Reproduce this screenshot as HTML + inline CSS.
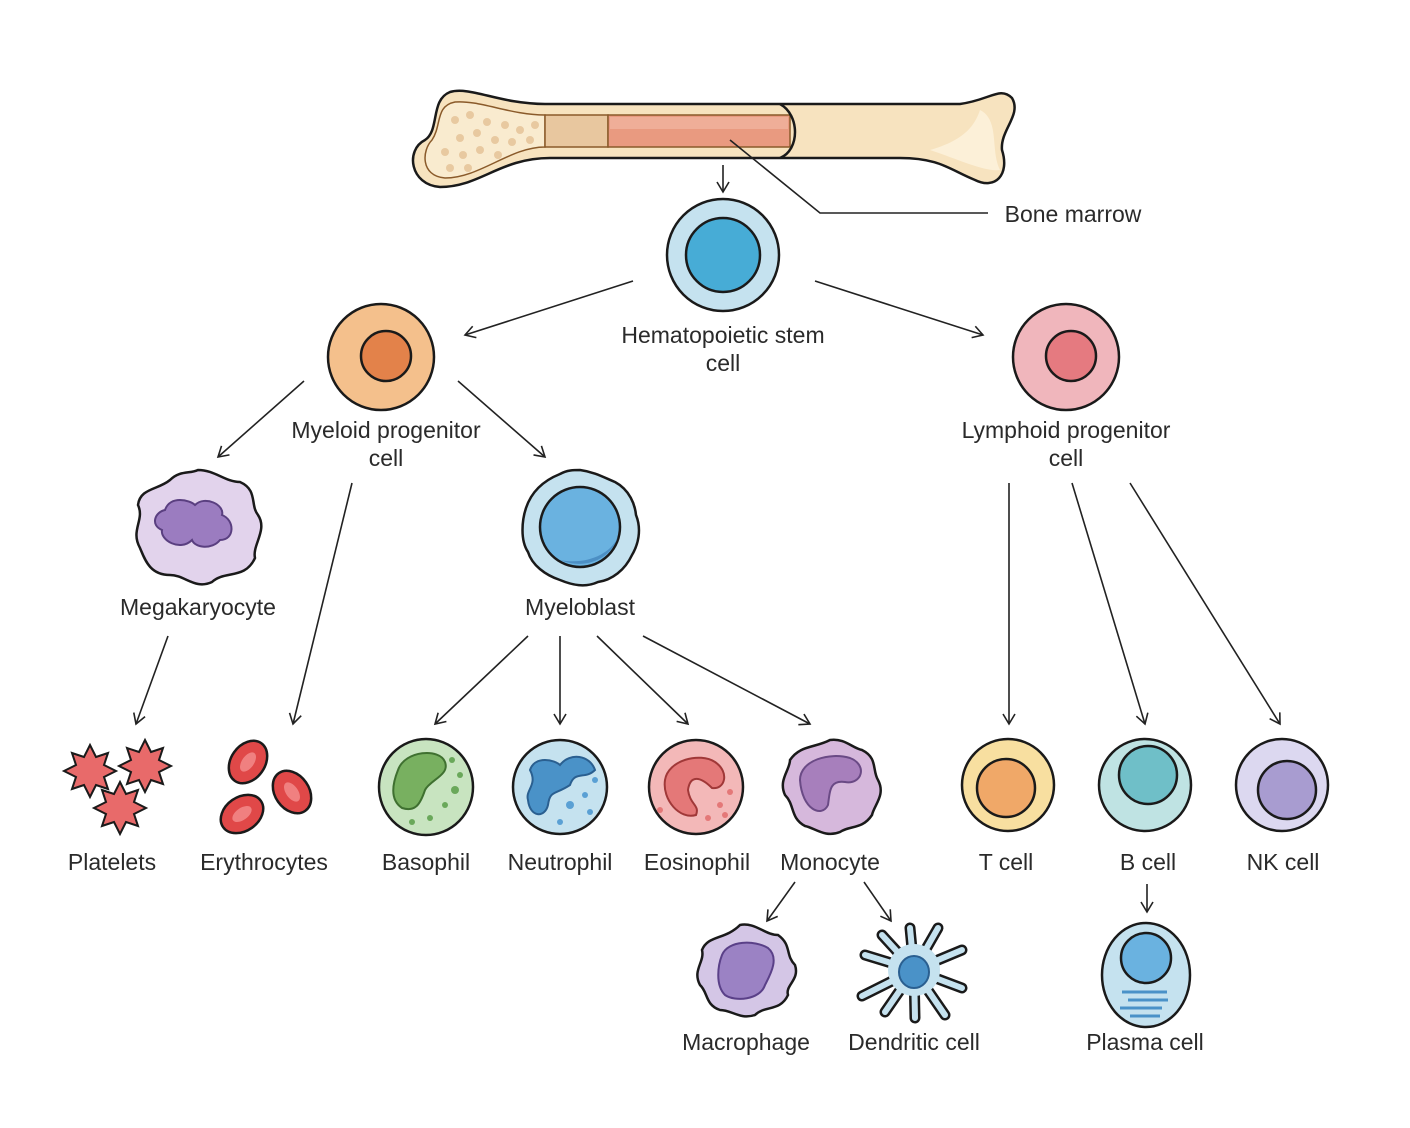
<!DOCTYPE html>
<html><head><meta charset="utf-8"><style>
html,body{margin:0;padding:0;background:#fff}
svg{display:block}
text{font-family:"Liberation Sans",sans-serif;font-size:23px;fill:#2a2a2a;text-anchor:middle}
.c{stroke:#1a1a1a;stroke-width:2.5}
.a{stroke:#222;stroke-width:1.6;fill:none}
</style></head><body>
<svg width="1410" height="1128" viewBox="0 0 1410 1128">
<defs><marker id="m" markerWidth="14" markerHeight="14" refX="12" refY="7" orient="auto" markerUnits="userSpaceOnUse"><path d="M2,1 L12,7 L2,13" fill="none" stroke="#222" stroke-width="1.6"/></marker></defs>
<!-- bone -->
<path class="c" fill="#f7e3bf" d="M450,92 C470,86 500,104 545,104 L960,104 C990,100 1000,86 1012,98 C1022,115 1000,130 1002,150 C1010,175 995,190 975,180 C950,170 940,158 900,158 L550,158 C500,158 480,187 440,187 C410,185 405,150 425,140 C440,130 430,100 450,92Z"/>
<path d="M980,110 C1000,120 990,150 1000,170 C985,172 960,160 930,150 C965,140 975,125 980,110Z" fill="#fcf0d8"/>
<path fill="#f9ebcf" stroke="#8a5a2a" stroke-width="1.5" d="M455,102 C480,100 510,115 545,115 L545,147 C510,147 480,178 445,178 C420,176 422,150 432,140 C442,125 435,106 455,102Z"/>
<g fill="#e8c9a0"><circle cx="455" cy="120" r="4"/><circle cx="470" cy="115" r="4"/><circle cx="487" cy="122" r="4"/><circle cx="505" cy="125" r="4"/><circle cx="520" cy="130" r="4"/><circle cx="535" cy="125" r="4"/><circle cx="460" cy="138" r="4"/><circle cx="477" cy="133" r="4"/><circle cx="495" cy="140" r="4"/><circle cx="512" cy="142" r="4"/><circle cx="445" cy="152" r="4"/><circle cx="463" cy="155" r="4"/><circle cx="480" cy="150" r="4"/><circle cx="498" cy="155" r="4"/><circle cx="450" cy="168" r="4"/><circle cx="468" cy="168" r="4"/><circle cx="530" cy="140" r="4"/></g>
<rect x="545" y="115" width="63" height="32" fill="#e8c79f" stroke="#8a5a2a" stroke-width="1.5"/>
<rect x="608" y="115" width="182" height="32" fill="#e99a80" stroke="#8a5a2a" stroke-width="1.5"/>
<rect x="610" y="117" width="178" height="12" fill="#efae98"/>
<path d="M780,104 C800,115 800,150 780,158" class="c" fill="none"/>
<!-- leader -->
<path class="a" d="M730,140 L820,213 L988,213"/>
<text x="1073" y="222" style="text-anchor:middle">Bone marrow</text>
<line class="a" x1="723" y1="165" x2="723" y2="192" marker-end="url(#m)"/>
<!-- HSC -->
<circle cx="723" cy="255" r="56" fill="#c5e2ef" class="c"/><circle cx="723" cy="255" r="37" fill="#47acd6" class="c"/>
<text x="723" y="343">Hematopoietic stem</text><text x="723" y="371">cell</text>
<line class="a" x1="633" y1="281" x2="465" y2="335" marker-end="url(#m)"/>
<line class="a" x1="815" y1="281" x2="983" y2="335" marker-end="url(#m)"/>
<!-- myeloid -->
<circle cx="381" cy="357" r="53" fill="#f4c08c" class="c"/><circle cx="386" cy="356" r="25" fill="#e3824a" class="c"/>
<text x="386" y="438">Myeloid progenitor</text><text x="386" y="466">cell</text>
<circle cx="1066" cy="357" r="53" fill="#f0b6bc" class="c"/><circle cx="1071" cy="356" r="25" fill="#e57a80" class="c"/>
<text x="1066" y="438">Lymphoid progenitor</text><text x="1066" y="466">cell</text>
<line class="a" x1="304" y1="381" x2="218" y2="457" marker-end="url(#m)"/>
<line class="a" x1="458" y1="381" x2="545" y2="457" marker-end="url(#m)"/>
<line class="a" x1="352" y1="483" x2="293" y2="724" marker-end="url(#m)"/>
<!-- megakaryocyte -->
<path class="c" fill="#e2d3ec" d="M198,470 C215,470 225,482 240,482 C258,490 250,505 258,515 C268,530 252,545 255,558 C245,580 225,570 212,582 C195,590 185,575 170,575 C150,575 145,560 140,548 C130,530 145,520 138,505 C140,488 158,490 170,480 C180,470 190,474 198,470Z"/>
<path d="M165,510 C170,495 190,500 195,505 C205,495 225,505 222,515 C235,520 235,540 220,540 C212,550 195,548 192,540 C180,552 160,540 162,530 C150,525 155,512 165,510Z" fill="#9b7cc0" stroke="#5a3f80" stroke-width="2"/>
<text x="198" y="615">Megakaryocyte</text>
<!-- myeloblast -->
<path class="c" fill="#c5e2ef" d="M580,470 C595,472 605,478 615,482 C630,490 635,505 636,515 C642,530 638,545 632,555 C625,570 612,580 598,582 C585,588 572,585 560,580 C545,575 532,565 528,552 C520,540 522,520 526,508 C532,490 545,480 560,474 C567,470 574,470 580,470Z"/>
<circle cx="580" cy="527" r="40" fill="#6ab2e0" class="c"/><path d="M618,537 C610,560 585,570 560,560 C585,565 610,555 618,537Z" fill="#4c8fc4"/>
<text x="580" y="615">Myeloblast</text>
<line class="a" x1="168" y1="636" x2="136" y2="724" marker-end="url(#m)"/>
<line class="a" x1="528" y1="636" x2="435" y2="724" marker-end="url(#m)"/>
<line class="a" x1="560" y1="636" x2="560" y2="724" marker-end="url(#m)"/>
<line class="a" x1="597" y1="636" x2="688" y2="724" marker-end="url(#m)"/>
<line class="a" x1="643" y1="636" x2="810" y2="724" marker-end="url(#m)"/>
<line class="a" x1="1009" y1="483" x2="1009" y2="724" marker-end="url(#m)"/>
<line class="a" x1="1072" y1="483" x2="1145" y2="724" marker-end="url(#m)"/>
<line class="a" x1="1130" y1="483" x2="1280" y2="724" marker-end="url(#m)"/>
<!-- platelets -->
<g fill="#e86a6a" stroke="#1a1a1a" stroke-width="2">
<path d="M90,745 l6,12 12,-4 -4,12 12,6 -12,6 4,12 -12,-4 -6,12 -6,-12 -12,4 4,-12 -12,-6 12,-6 -4,-12 12,4Z"/>
<path d="M145,740 l6,12 12,-4 -4,12 12,6 -12,6 4,12 -12,-4 -6,12 -6,-12 -12,4 4,-12 -12,-6 12,-6 -4,-12 12,4Z"/>
<path d="M120,782 l6,12 12,-4 -4,12 12,6 -12,6 4,12 -12,-4 -6,12 -6,-12 -12,4 4,-12 -12,-6 12,-6 -4,-12 12,4Z"/>
</g>
<!-- erythrocytes -->
<g fill="#e04848" stroke="#1a1a1a" stroke-width="2.5">
<ellipse cx="248" cy="762" rx="17" ry="23" transform="rotate(35 248 762)"/>
<ellipse cx="292" cy="792" rx="17" ry="23" transform="rotate(-35 292 792)"/>
<ellipse cx="242" cy="814" rx="17" ry="23" transform="rotate(55 242 814)"/>
</g>
<g fill="#f08080"><ellipse cx="248" cy="762" rx="6" ry="11" transform="rotate(35 248 762)"/><ellipse cx="292" cy="792" rx="6" ry="11" transform="rotate(-35 292 792)"/><ellipse cx="242" cy="814" rx="6" ry="11" transform="rotate(55 242 814)"/></g>
<!-- basophil -->
<ellipse cx="426" cy="787" rx="47" ry="48" fill="#c8e4c0" class="c"/>
<path d="M398,770 C405,750 440,748 445,762 C450,775 430,780 425,790 C420,805 415,812 402,808 C390,800 392,785 398,770Z" fill="#78b060" stroke="#3f7030" stroke-width="2"/>
<g fill="#6aa85a"><circle cx="455" cy="790" r="4"/><circle cx="445" cy="805" r="3"/><circle cx="460" cy="775" r="3"/><circle cx="430" cy="818" r="3"/><circle cx="412" cy="822" r="3"/><circle cx="452" cy="760" r="3"/></g>
<!-- neutrophil -->
<circle cx="560" cy="787" r="47" fill="#c5e2ef" class="c"/>
<path d="M530,770 C535,755 555,760 560,765 C570,752 590,755 595,770 C585,780 575,770 570,785 C555,795 550,790 548,805 C545,818 530,818 528,800 C525,790 538,785 530,770Z" fill="#4a92c8" stroke="#2a5f90" stroke-width="2"/>
<g fill="#5aa0d4"><circle cx="570" cy="805" r="4"/><circle cx="585" cy="795" r="3"/><circle cx="590" cy="812" r="3"/><circle cx="560" cy="822" r="3"/><circle cx="595" cy="780" r="3"/></g>
<!-- eosinophil -->
<circle cx="696" cy="787" r="47" fill="#f3b8b8" class="c"/>
<path d="M665,780 C668,760 700,752 715,762 C730,772 725,790 712,788 C700,776 690,775 688,790 C690,805 700,805 696,815 C680,820 662,800 665,780Z" fill="#e47878" stroke="#a03838" stroke-width="2"/>
<g fill="#e47878"><circle cx="720" cy="805" r="3"/><circle cx="708" cy="818" r="3"/><circle cx="730" cy="792" r="3"/><circle cx="660" cy="810" r="3"/><circle cx="725" cy="815" r="3"/></g>
<!-- monocyte -->
<path class="c" fill="#d6b8dc" d="M830,740 C845,738 852,748 862,750 C878,758 872,770 878,780 C886,795 874,805 872,815 C862,830 850,825 840,832 C825,838 815,828 805,826 C790,818 795,805 785,795 C778,780 790,770 790,760 C800,745 815,748 830,740Z"/>
<path d="M800,780 C800,760 830,752 850,758 C868,765 862,785 845,782 C830,780 830,790 828,805 C822,818 802,810 800,780Z" fill="#a77fbc" stroke="#6a4a85" stroke-width="2"/>
<!-- T B NK -->
<circle cx="1008" cy="785" r="46" fill="#f8dfa0" class="c"/><circle cx="1006" cy="788" r="29" fill="#f0a868" class="c"/>
<circle cx="1145" cy="785" r="46" fill="#bfe3e3" class="c"/><circle cx="1148" cy="775" r="29" fill="#6fbfc8" class="c"/>
<circle cx="1282" cy="785" r="46" fill="#dcd8f0" class="c"/><circle cx="1287" cy="790" r="29" fill="#a89cd0" class="c"/>
<text x="112" y="870">Platelets</text><text x="264" y="870">Erythrocytes</text><text x="426" y="870">Basophil</text><text x="560" y="870">Neutrophil</text><text x="697" y="870">Eosinophil</text><text x="830" y="870">Monocyte</text><text x="1006" y="870">T cell</text><text x="1148" y="870">B cell</text><text x="1283" y="870">NK cell</text>
<line class="a" x1="795" y1="882" x2="767" y2="921" marker-end="url(#m)"/>
<line class="a" x1="864" y1="882" x2="891" y2="921" marker-end="url(#m)"/>
<line class="a" x1="1147" y1="884" x2="1147" y2="912" marker-end="url(#m)"/>
<!-- macrophage -->
<path class="c" fill="#d4c6e6" d="M740,925 C755,922 765,935 778,935 C792,945 785,955 795,965 C800,980 785,985 788,995 C780,1012 765,1005 755,1015 C740,1020 732,1010 720,1010 C705,1005 708,992 700,985 C692,970 705,962 702,950 C708,935 725,940 740,925Z"/>
<path d="M722,955 C728,940 755,940 768,948 C780,958 770,975 765,985 C760,1000 735,1002 725,995 C715,985 718,965 722,955Z" fill="#9b82c4" stroke="#5a4088" stroke-width="2"/>
<!-- dendritic -->
<g stroke="#1a1a1a" stroke-width="11" stroke-linecap="round" fill="none"><path d="M914,970 L910,928"/><path d="M914,970 L938,928"/><path d="M914,970 L962,950"/><path d="M914,970 L962,988"/><path d="M914,970 L945,1015"/><path d="M914,970 L915,1018"/><path d="M914,970 L885,1012"/><path d="M914,970 L862,996"/><path d="M914,970 L865,955"/><path d="M914,970 L882,935"/></g>
<g stroke="#c5e2ef" stroke-width="6" stroke-linecap="round" fill="none"><path d="M914,970 L910,928"/><path d="M914,970 L938,928"/><path d="M914,970 L962,950"/><path d="M914,970 L962,988"/><path d="M914,970 L945,1015"/><path d="M914,970 L915,1018"/><path d="M914,970 L885,1012"/><path d="M914,970 L862,996"/><path d="M914,970 L865,955"/><path d="M914,970 L882,935"/></g>
<circle cx="914" cy="970" r="26" fill="#c5e2ef"/>
<ellipse cx="914" cy="972" rx="15" ry="16" fill="#4a92c8" stroke="#2a5f90" stroke-width="2"/>
<!-- plasma -->
<ellipse cx="1146" cy="975" rx="44" ry="52" fill="#c5e2ef" class="c"/>
<circle cx="1146" cy="958" r="25" fill="#6ab2e0" class="c"/>
<g stroke="#4a92c8" stroke-width="3" fill="none"><path d="M1122,992 h45"/><path d="M1128,1000 h40"/><path d="M1120,1008 h42"/><path d="M1130,1016 h30"/></g>
<text x="746" y="1050">Macrophage</text><text x="914" y="1050">Dendritic cell</text><text x="1145" y="1050">Plasma cell</text>
</svg>
</body></html>
